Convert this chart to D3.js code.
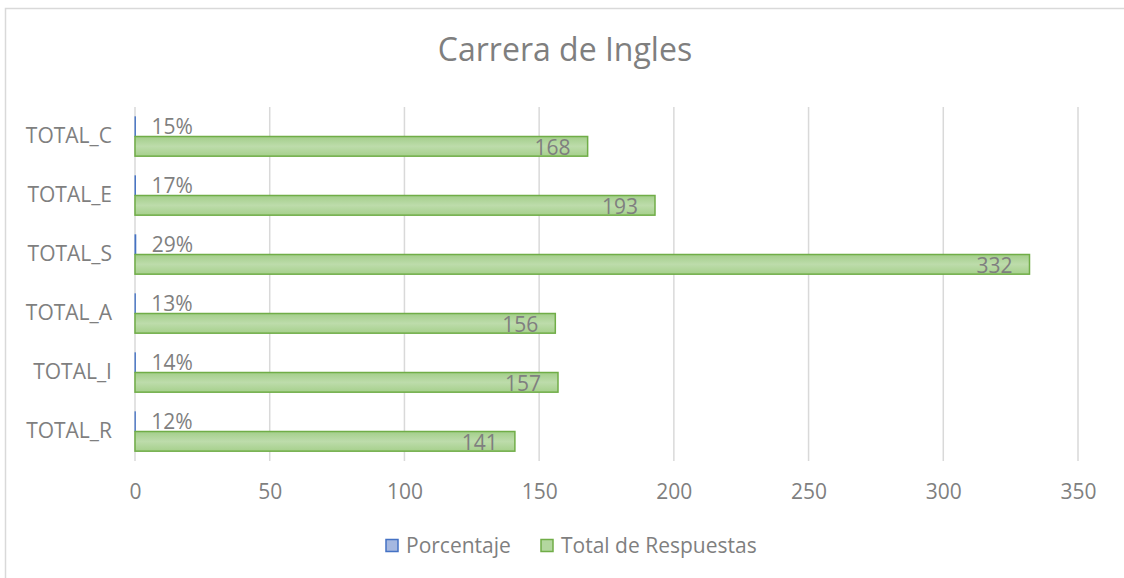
<!DOCTYPE html>
<html>
<head>
<meta charset="utf-8">
<script src="https://cdnjs.cloudflare.com/ajax/libs/d3/7.8.5/d3.min.js"></script>
<style>
    body { margin: 0; background: #fff; }
    svg text { font-family: "Open Sans", Lato, sans-serif; fill: #7f7f7f; }
</style>
</head>
<body>
<div id="chart"></div>
<script>
// data
var categories = ["TOTAL_C", "TOTAL_E", "TOTAL_S", "TOTAL_A", "TOTAL_I", "TOTAL_R"];
var porcentaje = [0.15, 0.17, 0.29, 0.13, 0.14, 0.12];
var totalRespuestas = [168, 193, 332, 156, 157, 141];
var seriesNames = ["Porcentaje", "Total de Respuestas"];
var xTicks = [0, 50, 100, 150, 200, 250, 300, 350];

var width = 1124, height = 578;

var svg = d3.select("#chart")
    .append("svg")
    .attr("width", width)
    .attr("height", height);

// gradient for the green bars
var defs = svg.append("defs");
var grad = defs.append("linearGradient")
    .attr("id", "greenFill")
    .attr("x1", 0).attr("y1", 0)
    .attr("x2", 0).attr("y2", 1);
grad.append("stop").attr("offset", "0%").attr("stop-color", "#a3ce8a");
grad.append("stop").attr("offset", "50%").attr("stop-color", "#bddcab");
grad.append("stop").attr("offset", "100%").attr("stop-color", "#a6d08c");

// outer chart frame
svg.append("rect")
    .attr("x", 5.5)
    .attr("y", 8.5)
    .attr("width", width + 10)
    .attr("height", height + 10)
    .style("fill", "none")
    .style("stroke", "#d9d9d9")
    .style("stroke-width", 1.5);

var x = d3.scaleLinear()
    .domain([0, 350])
    .range([135, 1078]);

var y = d3.scaleBand()
    .domain(categories)
    .range([107, 461]);

var sub = d3.scaleBand()
    .domain(seriesNames)
    .range([0, y.bandwidth()])
    .paddingOuter(0.5);

// title
svg.append("text")
    .attr("x", 565)
    .attr("y", 61)
    .attr("text-anchor", "middle")
    .style("font-size", "32px")
    .text("Carrera de Ingles");

// gridlines
svg.append("g")
    .selectAll("line")
    .data(xTicks)
    .enter()
    .append("line")
    .attr("x1", function(d) { return x(d); })
    .attr("x2", function(d) { return x(d); })
    .attr("y1", y.range()[0])
    .attr("y2", y.range()[1])
    .style("stroke", "#d9d9d9")
    .style("stroke-width", 1.5);

// x axis labels
var xAxis = d3.axisBottom(x)
    .tickValues(xTicks)
    .tickSize(0)
    .tickPadding(0);

var gx = svg.append("g")
    .attr("transform", "translate(0," + 484 + ")")
    .call(xAxis);
gx.select(".domain").remove();
gx.selectAll("text")
    .attr("dy", "0.71em")
    .style("font-size", "21px")
    .style("fill", "#7f7f7f");

// category labels
var yAxis = d3.axisLeft(y)
    .tickSize(0)
    .tickPadding(23);

var gy = svg.append("g")
    .attr("transform", "translate(" + x(0) + ",0)")
    .call(yAxis);
gy.select(".domain").remove();
gy.selectAll("text")
    .style("font-size", "21px")
    .style("fill", "#7f7f7f");

var rows = categories.map(function(c, i) {
    return { cat: c, pct: porcentaje[i], total: totalRespuestas[i] };
});

// Porcentaje bars (almost zero width on this axis)
svg.append("g")
    .selectAll("rect")
    .data(rows)
    .enter()
    .append("rect")
    .attr("x", x(0))
    .attr("y", function(d) { return y(d.cat) + sub(seriesNames[0]); })
    .attr("width", function(d) { return x(d.pct) - x(0); })
    .attr("height", sub.bandwidth())
    .style("fill", "#a5b8e0")
    .style("stroke", "#4472c4")
    .style("stroke-width", 1);

// Total bars
svg.append("g")
    .selectAll("rect")
    .data(rows)
    .enter()
    .append("rect")
    .attr("x", x(0))
    .attr("y", function(d) { return y(d.cat) + sub(seriesNames[1]); })
    .attr("width", function(d) { return x(d.total) - x(0); })
    .attr("height", sub.bandwidth())
    .style("fill", "url(#greenFill)")
    .style("stroke", "#70ad47")
    .style("stroke-width", 1.5);

// percent labels
svg.append("g")
    .selectAll("text")
    .data(rows)
    .enter()
    .append("text")
    .attr("x", function(d) { return x(d.pct) + 16; })
    .attr("y", function(d) { return y(d.cat) + sub(seriesNames[0]) + sub.bandwidth() / 2; })
    .attr("dy", "0.36em")
    .style("font-size", "21px")
    .text(function(d) { return Math.round(d.pct * 100) + "%"; });

// total labels, inside end
svg.append("g")
    .selectAll("text")
    .data(rows)
    .enter()
    .append("text")
    .attr("x", function(d) { return x(d.total) - 17; })
    .attr("y", function(d) { return y(d.cat) + sub(seriesNames[1]) + sub.bandwidth() / 2 + 1; })
    .attr("dy", "0.36em")
    .attr("text-anchor", "end")
    .style("font-size", "21px")
    .text(function(d) { return d.total; });

// legend
var legendColors = [
    { fill: "#a5b8e0", stroke: "#4472c4" },
    { fill: "#b3d79f", stroke: "#70ad47" }
];
var legendX = [386, 541];

var legend = svg.append("g")
    .selectAll("g")
    .data(seriesNames)
    .enter()
    .append("g")
    .attr("transform", function(d, i) { return "translate(" + legendX[i] + "," + 539.5 + ")"; });

legend.append("rect")
    .attr("width", 12)
    .attr("height", 12)
    .style("fill", function(d, i) { return legendColors[i].fill; })
    .style("stroke", function(d, i) { return legendColors[i].stroke; })
    .style("stroke-width", 1.5);

legend.append("text")
    .attr("x", 20)
    .attr("y", 6)
    .attr("dy", "0.36em")
    .style("font-size", "21px")
    .text(function(d) { return d; });
</script>
</body>
</html>
